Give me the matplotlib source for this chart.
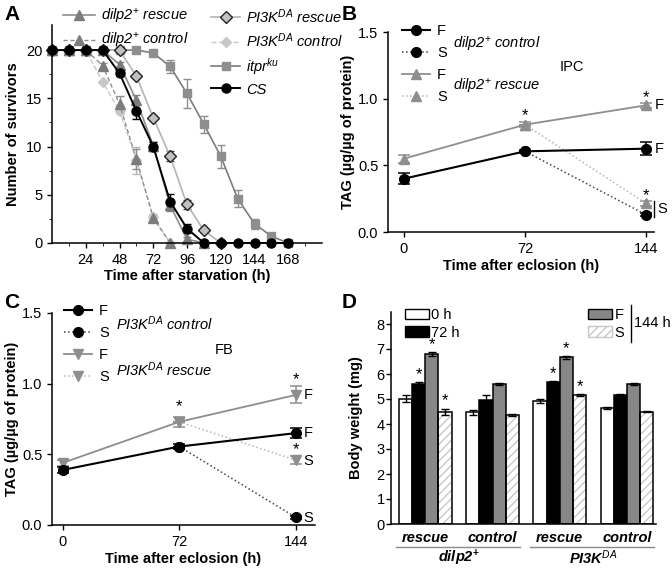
import matplotlib
matplotlib.use("Agg")
import matplotlib.pyplot as plt
from matplotlib.lines import Line2D
from matplotlib.patches import Patch
import numpy as np

plt.rcParams["font.family"] = ["Liberation Sans", "DejaVu Sans"]
plt.rcParams["font.size"] = 9.5
plt.rcParams["mathtext.fontset"] = "custom"
plt.rcParams["mathtext.rm"] = "Liberation Sans"
plt.rcParams["mathtext.it"] = "Liberation Sans:italic"
plt.rcParams["mathtext.bf"] = "Liberation Sans:bold"
plt.rcParams["axes.linewidth"] = 1.1
plt.rcParams["xtick.major.width"] = 1.0
plt.rcParams["ytick.major.width"] = 1.0
plt.rcParams["xtick.major.size"] = 3.5
plt.rcParams["ytick.major.size"] = 3.5
plt.rcParams["xtick.minor.size"] = 2.2
plt.rcParams["ytick.minor.size"] = 2.2

dark = "#7c7c7c"
mid = "#8e8e8e"
light = "#b4b4b4"
lighter = "#c8c8c8"

# ---------------- panel A data: survivors vs time after starvation
t_starv = [0, 12, 24, 36, 48, 60, 72, 84, 96, 108, 120, 132, 144, 156, 168]
cs_y = [20, 20, 20, 20, 17.6, 13.7, 10.0, 4.3, 1.5, 0, 0, 0, 0, 0, 0]
cs_err = [0, 0, 0, 0, 0.3, 0.8, 0.5, 0.8, 0.5, 0, 0, 0, 0, 0, 0]
t_dr = [0, 12, 24, 36, 48, 60, 72, 84, 96, 108]
dilp2_rescue = [20, 20, 20, 20, 18.5, 14.8, 10.1, 3.9, 0.4, 0]
dilp2_rescue_err = [0, 0, 0, 0, 0.3, 0.5, 0.4, 0.6, 0.2, 0]
t_dc = [0, 12, 24, 36, 48, 60, 72, 84]
dilp2_control = [20, 20, 20, 18.4, 14.4, 8.7, 2.6, 0]
dilp2_control_err = [0, 0, 0, 0.3, 0.8, 1.0, 0.3, 0]
t_pr = [0, 12, 24, 36, 48, 60, 72, 84, 96, 108, 120]
pi3k_rescue = [20, 20, 20, 20, 20, 17.3, 13.0, 9.0, 4.0, 1.3, 0]
pi3k_rescue_err = [0, 0, 0, 0, 0, 0.2, 0.3, 0.5, 0.5, 0.2, 0]
t_pc = [0, 12, 24, 36, 48, 60, 72, 84]
pi3k_control = [20, 20, 20, 16.7, 13.7, 8.6, 2.7, 0]
pi3k_control_err = [0, 0, 0, 0, 0.3, 1.4, 0.3, 0]
t_it = [0, 12, 24, 36, 48, 60, 72, 84, 96, 108, 120, 132, 144, 156, 168]
itpr = [20, 20, 20, 20, 20, 20, 19.7, 18.3, 15.5, 12.3, 9.0, 4.6, 2.0, 0.7, 0]
itpr_err = [0, 0, 0, 0, 0, 0, 0, 0.7, 1.5, 0.9, 1.2, 0.9, 0.5, 0.2, 0]

# ---------------- panel B data: TAG (IPC)
t_ecl = [0, 72, 144]
b_ctrl_F = [0.40, 0.605, 0.625]
b_ctrl_F_err = [0.04, 0.01, 0.05]
b_ctrl_S = [0.605, 0.13]
b_ctrl_S_err = [0.0, 0.01]
b_resc_F = [0.55, 0.805, 0.95]
b_resc_F_err = [0.03, 0.02, 0.02]
b_resc_S = [0.805, 0.215]
b_resc_S_err = [0.0, 0.02]

# ---------------- panel C data: TAG (FB)
c_ctrl_F = [0.39, 0.555, 0.65]
c_ctrl_F_err = [0.02, 0.02, 0.035]
c_ctrl_S = [0.555, 0.055]
c_ctrl_S_err = [0.0, 0.01]
c_resc_F = [0.44, 0.73, 0.92]
c_resc_F_err = [0.02, 0.035, 0.06]
c_resc_S = [0.73, 0.46]
c_resc_S_err = [0.0, 0.03]

# ---------------- panel D data: body weight
groups = ["rescue", "control", "rescue", "control"]
w_0h = [5.02, 4.47, 4.92, 4.65]
w_0h_err = [0.15, 0.10, 0.08, 0.04]
w_72h = [5.60, 4.97, 5.70, 5.17]
w_72h_err = [0.07, 0.20, 0.03, 0.03]
w_F = [6.80, 5.60, 6.67, 5.60]
w_F_err = [0.07, 0.03, 0.05, 0.03]
w_S = [4.50, 4.37, 5.17, 4.50]
w_S_err = [0.12, 0.03, 0.04, 0.03]

W, H = 672, 571
fig = plt.figure(figsize=(W / 100, H / 100), dpi=100)


def ax_px(l, t, r, b):
    return fig.add_axes([l / W, 1 - b / H, (r - l) / W, (b - t) / H])


def clean(ax):
    ax.spines["top"].set_visible(False)
    ax.spines["right"].set_visible(False)


# ====================== A
axA = ax_px(52, 25, 322, 243)
clean(axA)
ms = 6.5
ekw = dict(capsize=3, elinewidth=1.0, capthick=1.0, clip_on=False)
axA.errorbar(t_it, itpr, yerr=itpr_err, color=dark, ecolor=mid, marker="s",
             ms=6, mfc=mid, mec=mid, lw=1.2, **ekw)
axA.errorbar(t_pc, pi3k_control, yerr=pi3k_control_err, color=lighter,
             ecolor=light, ls="--", marker="D", ms=5.5, mfc=lighter,
             mec=lighter, lw=1.0, **ekw)
axA.errorbar(t_dc, dilp2_control, yerr=dilp2_control_err, color=mid,
             ecolor=mid, ls="--", marker="^", ms=ms, mfc=dark, mec=dark,
             lw=1.0, dashes=(3, 2), **ekw)
axA.errorbar(t_pr, pi3k_rescue, yerr=pi3k_rescue_err, color=light,
             ecolor="#444444", marker="D", ms=6, mfc="#c0c0c0", mec="#222222",
             mew=1.0, lw=1.2, **ekw)
axA.errorbar(t_dr, dilp2_rescue, yerr=dilp2_rescue_err, color=mid,
             ecolor=dark, marker="^", ms=ms, mfc=dark, mec=dark, lw=1.2, **ekw)
axA.errorbar(t_starv, cs_y, yerr=cs_err, color="black", ecolor="black",
             marker="o", ms=ms, mfc="black", mec="black", lw=1.4, **ekw)
axA.set_xlim(0, 192)
axA.set_ylim(0, 22.6)
axA.set_xticks([24, 48, 72, 96, 120, 144, 168])
axA.set_xticks(np.arange(12, 192, 24), minor=True)
axA.set_yticks([0, 5, 10, 15, 20])
axA.set_yticks([2.5, 7.5, 12.5, 17.5], minor=True)
axA.tick_params(labelsize=10.5)
axA.set_xlabel("Time after starvation (h)", fontweight="bold", fontsize=10.5,
               labelpad=2)
axA.set_ylabel("Number of survivors", fontweight="bold", fontsize=10.5,
               labelpad=4)

legA1 = [
    Line2D([], [], color=mid, marker="^", ms=ms, mfc=dark, mec=dark, lw=1.2),
    Line2D([], [], color=mid, ls="--", dashes=(3, 2), marker="^", ms=ms,
           mfc=dark, mec=dark, lw=1.0),
]
lg = axA.legend(legA1, [r"dilp2$^{+}$ rescue", r"dilp2$^{+}$ control"],
                loc="upper left", bbox_to_anchor=(63 / W, 1 - 7 / H),
                bbox_transform=fig.transFigure, frameon=False,
                handlelength=2.2, handletextpad=0.4, labelspacing=0.35,
                borderpad=0, borderaxespad=0, prop=dict(style="italic",
                                                        size=10.5))
axA.add_artist(lg)
legA2 = [
    Line2D([], [], color=light, marker="D", ms=6, mfc="#c0c0c0",
           mec="#222222", lw=1.2),
    Line2D([], [], color=lighter, ls="--", marker="D", ms=5.5, mfc=lighter,
           mec=lighter, lw=1.0),
    Line2D([], [], color=dark, marker="s", ms=6, mfc=mid, mec=mid, lw=1.2),
    Line2D([], [], color="black", marker="o", ms=ms, mfc="black", lw=1.4),
]
axA.legend(legA2, [r"PI3K$^{DA}$ rescue", r"PI3K$^{DA}$ control",
                   r"itpr$^{ku}$", "CS"],
           loc="upper left", bbox_to_anchor=(211 / W, 1 - 7 / H),
           bbox_transform=fig.transFigure, frameon=False,
           handlelength=2.0, handletextpad=0.4, labelspacing=0.4,
           borderpad=0, borderaxespad=0, prop=dict(style="italic", size=10.5))


# ====================== B and C (TAG)
def tag_panel(ax, ctrl_F, ctrl_F_err, ctrl_S, ctrl_S_err, resc_F, resc_F_err,
              resc_S, resc_S_err, resc_marker):
    ekw2 = dict(capsize=4, elinewidth=1.1, capthick=1.1, clip_on=False)
    ax.errorbar(t_ecl[1:], resc_S, yerr=resc_S_err, color=light, ls=":",
                marker=resc_marker, ms=7, mfc=mid, mec=mid, ecolor=mid,
                lw=1.1, **ekw2)
    ax.errorbar(t_ecl[1:], ctrl_S, yerr=ctrl_S_err, color="#444444", ls=":",
                marker="o", ms=7, mfc="black", mec="black", ecolor="black",
                lw=1.1, **ekw2)
    ax.errorbar(t_ecl, resc_F, yerr=resc_F_err, color=mid, marker=resc_marker,
                ms=7, mfc=mid, mec=mid, ecolor=mid, lw=1.3, **ekw2)
    ax.errorbar(t_ecl, ctrl_F, yerr=ctrl_F_err, color="black", marker="o",
                ms=7, mfc="black", mec="black", ecolor="black", lw=1.5,
                **ekw2)
    ax.set_ylim(0, 1.5)
    ax.set_yticks([0, 0.5, 1.0, 1.5])
    ax.set_yticklabels(["0.0", "0.5", "1.0", "1.5"])
    ax.set_xticks(t_ecl)
    ax.tick_params(labelsize=10.5)
    ax.set_xlabel("Time after eclosion (h)", fontweight="bold", fontsize=10.5,
                  labelpad=2)
    ax.set_ylabel("TAG (µg/µg of protein)", fontweight="bold",
                  fontsize=10.5, labelpad=2)
    hs = [
        Line2D([], [], color="black", marker="o", ms=7, lw=1.5),
        Line2D([], [], color="#444444", ls=":", marker="o", ms=7,
               mfc="black", mec="black", lw=1.1),
        Line2D([], [], color=mid, marker=resc_marker, ms=7, mfc=mid,
               mec=mid, lw=1.3),
        Line2D([], [], color=light, ls=":", marker=resc_marker, ms=7,
               mfc=mid, mec=mid, lw=1.1),
    ]
    return hs


axB = ax_px(388, 32, 654, 232)
clean(axB)
hB = tag_panel(axB, b_ctrl_F, b_ctrl_F_err, b_ctrl_S, b_ctrl_S_err,
               b_resc_F, b_resc_F_err, b_resc_S, b_resc_S_err, "^")
axB.set_xlim(-9.5, 148.8)
axB.legend(hB, ["F", "S", "F", "S"], loc="upper left",
           bbox_to_anchor=(402 / W, 1 - 24 / H), bbox_transform=fig.transFigure,
           frameon=False, handlelength=1.9, handletextpad=0.5,
           labelspacing=0.55, borderpad=0, borderaxespad=0,
           prop=dict(size=10.5))
fig.text(453 / W, 1 - 44 / H, r"dilp2$^{+}$ control", style="italic",
         fontsize=10.5, va="center")
fig.text(453 / W, 1 - 86 / H, r"dilp2$^{+}$ rescue", style="italic",
         fontsize=10.5, va="center")
axB.text(100, 1.24, "IPC", fontsize=10.5, ha="center", va="center")
for xs, ys in [(72, 0.87), (144, 1.01), (144, 0.275)]:
    axB.text(xs, ys, "*", fontsize=12, ha="center", va="center")
axB.text(149, 0.95, "F", fontsize=10.5, va="center")
axB.text(149, 0.625, "F", fontsize=10.5, va="center")
axB.plot([149, 149], [0.11, 0.235], color="black", lw=1.0, clip_on=False)
axB.text(150.5, 0.175, "S", fontsize=10.5, va="center")

axC = ax_px(52, 313, 315, 525)
clean(axC)
hC = tag_panel(axC, c_ctrl_F, c_ctrl_F_err, c_ctrl_S, c_ctrl_S_err,
               c_resc_F, c_resc_F_err, c_resc_S, c_resc_S_err, "v")
axC.set_xlim(-6.8, 156)
axC.legend(hC, ["F", "S", "F", "S"], loc="upper left",
           bbox_to_anchor=(64 / W, 1 - 304 / H), bbox_transform=fig.transFigure,
           frameon=False, handlelength=1.9, handletextpad=0.5,
           labelspacing=0.55, borderpad=0, borderaxespad=0,
           prop=dict(size=10.5))
fig.text(116 / W, 1 - 324 / H, r"PI3K$^{DA}$ control", style="italic",
         fontsize=10.5, va="center")
fig.text(116 / W, 1 - 370 / H, r"PI3K$^{DA}$ rescue", style="italic",
         fontsize=10.5, va="center")
axC.text(100, 1.24, "FB", fontsize=10.5, ha="center", va="center")
for xs, ys in [(72, 0.84), (144, 1.03), (144, 0.53)]:
    axC.text(xs, ys, "*", fontsize=12, ha="center", va="center")
axC.text(149, 0.92, "F", fontsize=10.5, va="center")
axC.text(149, 0.65, "F", fontsize=10.5, va="center")
axC.text(149, 0.455, "S", fontsize=10.5, va="center")
axC.text(149, 0.05, "S", fontsize=10.5, va="center")

# ====================== D
axD = ax_px(391, 312, 656, 524)
clean(axD)
gap = 5.1
gx = np.arange(len(groups)) * gap
bw = 1.0
bkw = dict(width=bw, edgecolor="black", linewidth=1.1, zorder=2)
ekw3 = dict(fmt="none", ecolor="black", capsize=3, elinewidth=1.0,
            capthick=1.0, zorder=3)
axD.bar(gx, w_0h, color="white", **bkw)
axD.errorbar(gx, w_0h, yerr=w_0h_err, **ekw3)
axD.bar(gx + 1, w_72h, color="black", **bkw)
axD.errorbar(gx + 1, w_72h, yerr=w_72h_err, **ekw3)
axD.bar(gx + 2, w_F, color="#878787", **bkw)
axD.errorbar(gx + 2, w_F, yerr=w_F_err, **ekw3)
axD.bar(gx + 3, w_S, width=bw, color="white", edgecolor="#c8c8c8",
        hatch="////", linewidth=0, zorder=1)
axD.bar(gx + 3, w_S, width=bw, fill=False, edgecolor="black", linewidth=1.1,
        zorder=2)
axD.errorbar(gx + 3, w_S, yerr=w_S_err, **ekw3)
axD.set_xlim(-1.1, 3 * gap + 3.7)
axD.set_ylim(0, 8.48)
axD.set_yticks(range(0, 9))
axD.tick_params(axis="y", labelsize=10.5, pad=1)
axD.set_xticks(gx + 1.5)
axD.set_xticklabels(groups, fontweight="bold", style="italic", fontsize=10.5)
axD.tick_params(axis="x", length=0, pad=5)
axD.set_ylabel("Body weight (mg)", fontweight="bold", fontsize=10.5,
               labelpad=10)
for i in [0, 2]:
    for j, vals, errs in [(1, w_72h, w_72h_err), (2, w_F, w_F_err),
                          (3, w_S, w_S_err)]:
        axD.text(gx[i] + j, vals[i] + errs[i] + 0.3, "*", fontsize=12,
                 ha="center", va="center")
tr = axD.get_xaxis_transform()
for i, name in [(0, r"dilp2$^{\mathbf{+}}$"), (2, r"PI3K$^{\mathit{DA}}$")]:
    axD.plot([gx[i] - 0.75, gx[i + 1] + 3.55], [-0.108, -0.108],
             color="#8a8a8a", lw=1.0, transform=tr, clip_on=False)
    axD.text((gx[i] + gx[i + 1] + 3) / 2, -0.16, name, transform=tr,
             fontweight="bold", style="italic", fontsize=10.5,
             ha="center", va="center")
fig.legend([Patch(facecolor="white", edgecolor="black"),
            Patch(facecolor="black", edgecolor="black")], ["0 h", "72 h"],
           loc="upper left", bbox_to_anchor=(405 / W, 1 - 308 / H),
           frameon=False, handlelength=1.65, handleheight=0.75,
           handletextpad=0.15, labelspacing=0.25, borderpad=0,
           borderaxespad=0, prop=dict(size=10.5))
fig.legend([Patch(facecolor="#878787", edgecolor="black"),
            Patch(facecolor="white", edgecolor="#c8c8c8", hatch="////")],
           ["F", "S"], loc="upper left",
           bbox_to_anchor=(588 / W, 1 - 308 / H), frameon=False,
           handlelength=1.65, handleheight=0.75, handletextpad=0.15,
           labelspacing=0.25, borderpad=0, borderaxespad=0,
           prop=dict(size=10.5))
fig.add_artist(Line2D([631 / W, 631 / W], [1 - 305 / H, 1 - 342 / H],
                      color="black", lw=1.0))
fig.text(634 / W, 1 - 323 / H, "144 h", fontsize=10.5, va="center")

# panel letters
for lx, ly, s in [(4, 14, "A"), (342, 14, "B"), (4, 303, "C"),
                  (342, 303, "D")]:
    fig.text(lx / W, 1 - ly / H, s, fontsize=15, fontweight="bold",
             va="center")

fig.savefig("out.png", dpi=100)
